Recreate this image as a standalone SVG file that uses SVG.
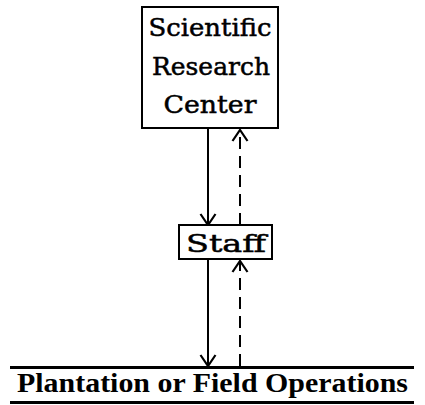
<svg xmlns="http://www.w3.org/2000/svg" width="425" height="405" viewBox="0 0 425 405">
<style>
.box{fill:#fff;stroke:#000;stroke-width:2}
.t{font-family:"DejaVu Serif","Liberation Serif",serif;font-size:25px;fill:#000;stroke:#000;stroke-width:0.5;text-anchor:middle}
.c{stroke:#000;stroke-width:2;fill:none}
.d{stroke-dasharray:12 7}
.h{stroke:#000;stroke-width:3;fill:none}
</style>
<defs>
<marker id="ah" viewBox="0 0 14 18" refX="12" refY="9" markerWidth="14" markerHeight="18" markerUnits="userSpaceOnUse" orient="auto">
<path d="M1,1.5 L12,9 L1,16.5" fill="none" stroke="#000" stroke-width="2.2"/>
</marker>
</defs>
<g id="connectors">
<line class="c" x1="208" y1="129" x2="208" y2="225" marker-end="url(#ah)"/>
<line class="c d" x1="240" y1="225" x2="240" y2="130" marker-end="url(#ah)"/>
<line class="c" x1="208" y1="259" x2="208" y2="366" marker-end="url(#ah)"/>
<line class="c d" x1="240" y1="366" x2="240" y2="261" marker-end="url(#ah)"/>
</g>
<g id="src">
<rect class="box" x="142" y="7" width="136" height="121"/>
<text class="t" x="210" y="36" textLength="123" lengthAdjust="spacingAndGlyphs">Scientific</text>
<text class="t" x="211" y="75" textLength="118" lengthAdjust="spacingAndGlyphs">Research</text>
<text class="t" x="210" y="113" textLength="93" lengthAdjust="spacingAndGlyphs">Center</text>
</g>
<g id="staff">
<rect class="box" x="179" y="225" width="93" height="34"/>
<text class="t" x="226" y="252" font-size="27" textLength="80" lengthAdjust="spacingAndGlyphs">Staff</text>
</g>
<g id="field">
<line class="h" x1="10" y1="367.5" x2="414" y2="367.5"/>
<text x="212.5" y="392" font-family="Liberation Serif,serif" font-weight="bold" font-size="28" text-anchor="middle" textLength="391" lengthAdjust="spacingAndGlyphs">Plantation or Field Operations</text>
<line class="h" x1="10" y1="402.5" x2="414" y2="402.5"/>
</g>
</svg>
